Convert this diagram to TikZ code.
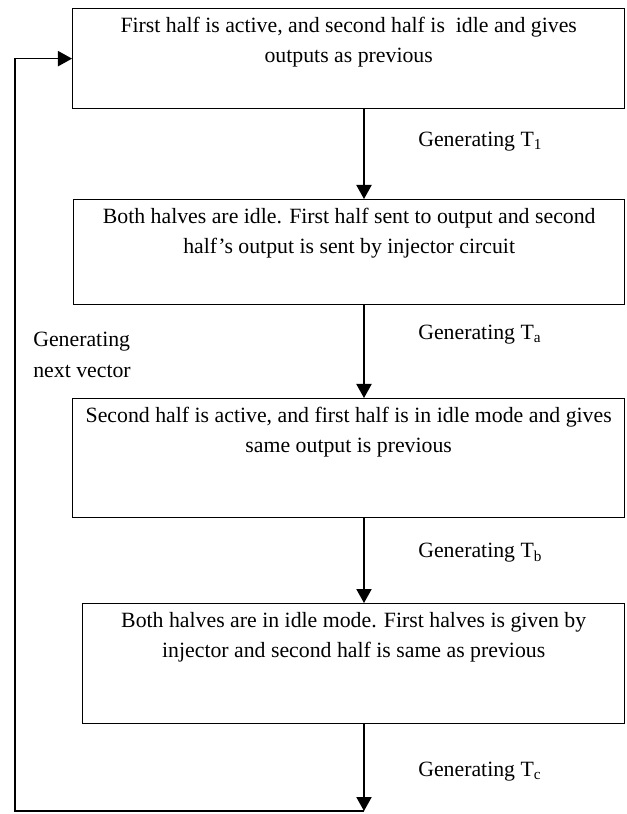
\documentclass[tikz,border=0pt]{standalone}
\usepackage{fontspec}
\setmainfont{Liberation Serif}
\usetikzlibrary{arrows.meta}

\newcommand{\stagetext}[3]{\parbox[c][#2][t]{#1}{\centering\fontsize{15.5}{21.3}\selectfont\vspace*{6pt}#3\par}}

\begin{document}
\begin{tikzpicture}[x=0.025cm,y=-0.025cm,
        stage/.style={draw,line width=0.9pt,inner sep=0pt,anchor=north west},
        flow/.style={-{Triangle[length=3.5mm,width=3.8mm]},line width=0.9pt},
        note/.style={font=\fontsize{15.5}{16}\selectfont,anchor=west,inner sep=0pt}]
    \useasboundingbox (0,0) rectangle (626,814);
    % the four stages
    \node[stage] (s1) at (72,8) {\stagetext{13.8cm}{2.5cm}{First half is active, and second half is\ \ idle and gives\\outputs as previous}};
    \node[stage] (s2) at (73,199) {\stagetext{13.775cm}{2.625cm}{Both halves are idle. First half sent to output and second\\half's output is sent by injector circuit}};
    \node[stage] (s3) at (72,398) {\stagetext{13.8cm}{2.975cm}{Second half is active, and first half is in idle mode and gives\\same output is previous}};
    \node[stage] (s4) at (82,603) {\stagetext{13.55cm}{3.0cm}{Both halves are in idle mode. First halves is given by\\injector and second half is same as previous}};
    % labels of the steps
    \node[note] (t1) at (418,142) {Generating T\textsubscript{1}};
    \node[note] (ta) at (418,335) {Generating T\textsubscript{a}};
    \node[note] (tb) at (418,553) {Generating T\textsubscript{b}};
    \node[note] (tc) at (418,772) {Generating T\textsubscript{c}};
    \node[note,align=left,font=\fontsize{15.5}{22}\selectfont] (nv) at (33,355) {Generating\\next vector};
    % connectors
    \coordinate (spine) at (364,0);
    \coordinate (end) at (364,811);
    \coordinate (corner) at (15,811);
    \draw[flow] (s1.south -| spine) -- (s2.north -| spine);
    \draw[flow] (s2.south -| spine) -- (s3.north -| spine);
    \draw[flow] (s3.south -| spine) -- (s4.north -| spine);
    \draw[flow] (s4.south -| spine) -- (end);
    \draw[flow] (end) -- (corner) |- (s1.west);
\end{tikzpicture}
\end{document}
